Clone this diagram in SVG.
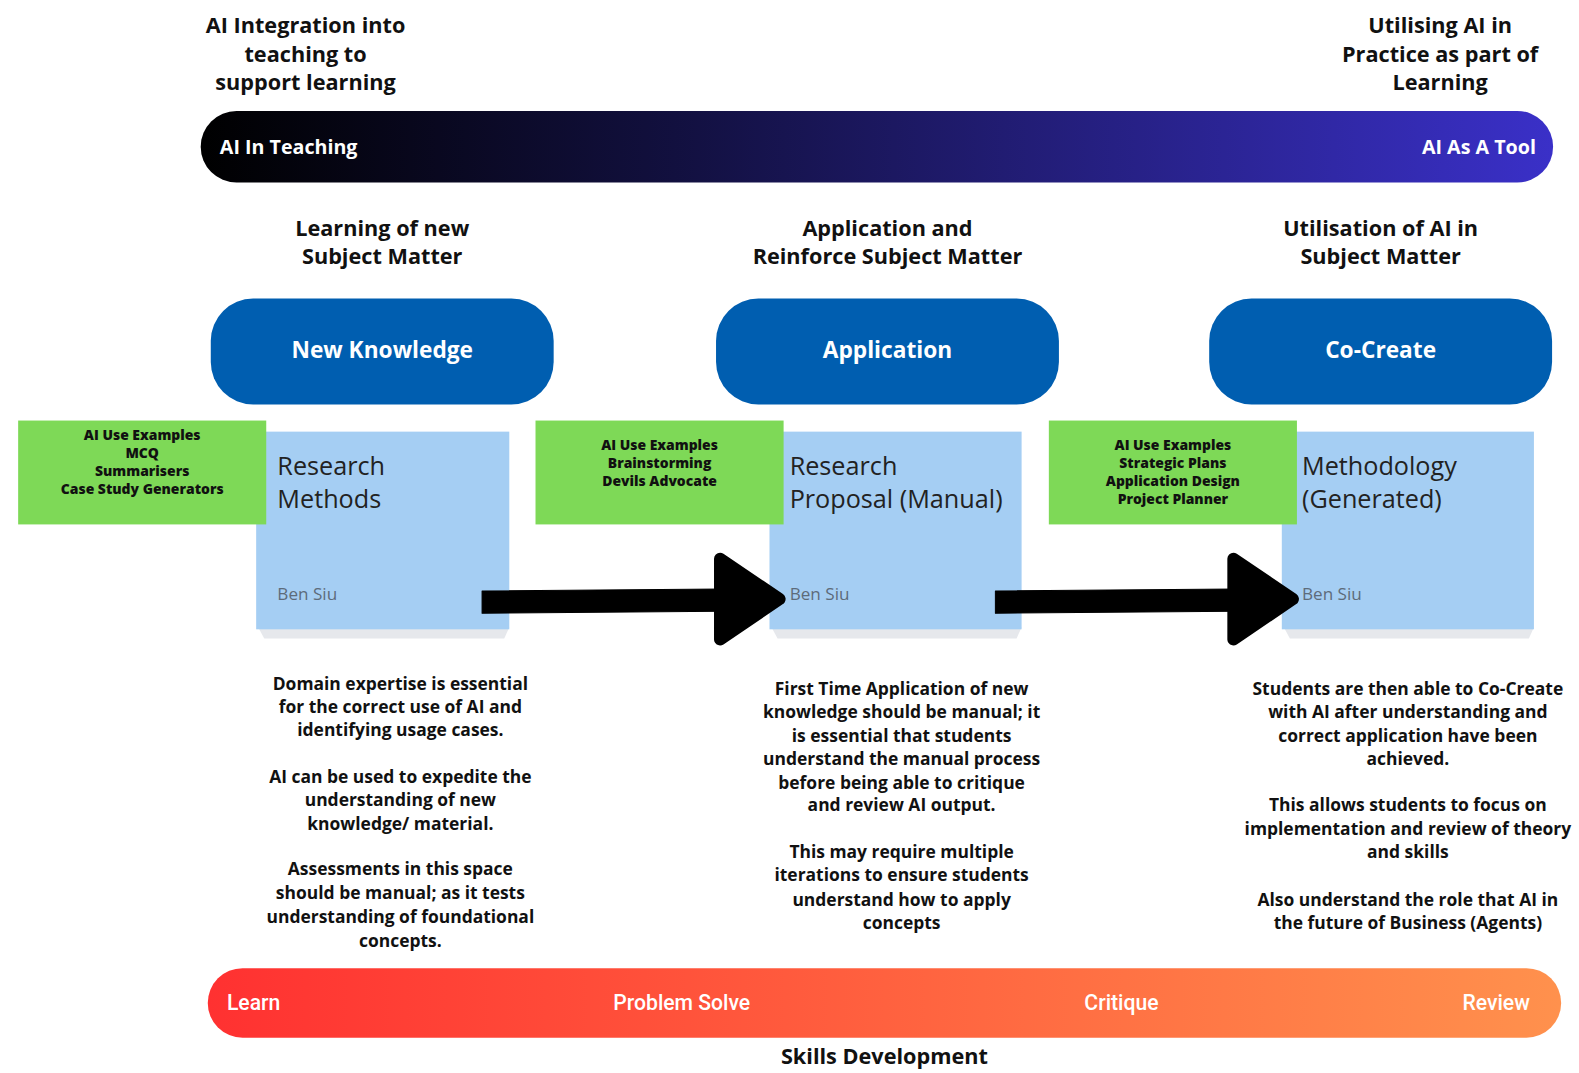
<svg xmlns="http://www.w3.org/2000/svg" width="1579" height="1073" viewBox="0 0 1579 1073">
<defs>
<linearGradient id="gTop" x1="0" y1="0" x2="1" y2="0">
<stop offset="0" stop-color="#000000"/>
<stop offset="0.35" stop-color="#12103f"/>
<stop offset="1" stop-color="#3a30c8"/>
</linearGradient>
<linearGradient id="gBot" x1="0" y1="0" x2="1" y2="0">
<stop offset="0" stop-color="#ff3131"/>
<stop offset="1" stop-color="#ff914d"/>
</linearGradient>
<style>
.hd{font-family:"Open Sans","Liberation Sans",sans-serif;font-weight:700;font-size:21.5px;fill:#111;text-anchor:middle}
.bd{font-family:"Open Sans","Liberation Sans",sans-serif;font-weight:700;font-size:17.3px;fill:#111;text-anchor:middle}
.bar{font-family:"Open Sans","Liberation Sans",sans-serif;font-weight:700;font-size:19.5px;fill:#fff}
.bar2{font-family:Roboto,"Liberation Sans",sans-serif;font-weight:500;font-size:21px;fill:#fff}
.node{fill:#005eb0}
.nt{font-family:"Open Sans","Liberation Sans",sans-serif;font-weight:700;font-size:22.5px;fill:#fff;text-anchor:middle}
.card{fill:#a5cef3}
.shadow{fill:#e6e8ec}
.ct{font-family:"Open Sans","Liberation Sans",sans-serif;font-size:25px;fill:#222}
.by{font-family:"Open Sans","Liberation Sans",sans-serif;font-size:17px;fill:#5d6b7a}
.gr{fill:#7ed957}
.gt{font-family:"Open Sans","Liberation Sans",sans-serif;font-weight:800;font-size:13.8px;fill:#111;text-anchor:middle}
.arrow{fill:#000;stroke:#000;stroke-linejoin:round}
</style>
</defs>
<rect width="1579" height="1073" fill="#fff"/>
<g transform="scale(1.0085)">
<g id="header-left">
<text class="hd" x="303" y="33">AI Integration into</text>
<text class="hd" x="303" y="61">teaching to</text>
<text class="hd" x="303" y="89">support learning</text>
</g>
<g id="header-right">
<text class="hd" x="1428" y="33">Utilising AI in</text>
<text class="hd" x="1428" y="61">Practice as part of</text>
<text class="hd" x="1428" y="89">Learning</text>
</g>

<g id="top-bar">
<rect x="199" y="110" width="1341" height="71" rx="35.5" fill="url(#gTop)"/>
<text class="bar" x="218" y="153">AI In Teaching</text>
<text class="bar" x="1523" y="153" text-anchor="end">AI As A Tool</text>
</g>

<g id="stage-labels">
<text class="hd" x="379" y="234">Learning of new</text>
<text class="hd" x="379" y="262">Subject Matter</text>
<text class="hd" x="880" y="234">Application and</text>
<text class="hd" x="880" y="262">Reinforce Subject Matter</text>
<text class="hd" x="1369" y="234">Utilisation of AI in</text>
<text class="hd" x="1369" y="262">Subject Matter</text>
</g>

<g id="node-new-knowledge">
<rect class="node" x="209" y="296" width="340" height="105" rx="42"/>
<text class="nt" x="379" y="355">New Knowledge</text>
</g>
<g id="node-application">
<rect class="node" x="710" y="296" width="340" height="105" rx="42"/>
<text class="nt" x="880" y="355">Application</text>
</g>
<g id="node-co-create">
<rect class="node" x="1199" y="296" width="340" height="105" rx="42"/>
<text class="nt" x="1369" y="355">Co-Create</text>
</g>

<g id="card-research-methods">
<path class="shadow" d="M256 622 L505 622 L500 633 L262 633 Z"/>
<rect class="card" x="254" y="428" width="251" height="196"/>
<text class="ct" x="275" y="471">Research</text>
<text class="ct" x="275" y="504">Methods</text>
<text class="by" x="275" y="595">Ben Siu</text>
</g>
<g id="card-research-proposal">
<path class="shadow" d="M765 622 L1013 622 L1008 633 L771 633 Z"/>
<rect class="card" x="763" y="428" width="250" height="196"/>
<text class="ct" x="783" y="471">Research</text>
<text class="ct" x="783" y="504">Proposal (Manual)</text>
<text class="by" x="783" y="595">Ben Siu</text>
</g>
<g id="card-methodology">
<path class="shadow" d="M1273 622 L1521 622 L1516 633 L1279 633 Z"/>
<rect class="card" x="1271" y="428" width="250" height="196"/>
<text class="ct" x="1291" y="471">Methodology</text>
<text class="ct" x="1291" y="504">(Generated)</text>
<text class="by" x="1291" y="595">Ben Siu</text>
</g>

<g id="ai-examples-1">
<rect class="gr" x="18" y="417" width="246" height="103"/>
<text class="gt" x="141" y="436">AI Use Examples</text>
<text class="gt" x="141" y="454">MCQ</text>
<text class="gt" x="141" y="472">Summarisers</text>
<text class="gt" x="141" y="490">Case Study Generators</text>
</g>
<g id="ai-examples-2">
<rect class="gr" x="531" y="417" width="246" height="103"/>
<text class="gt" x="654" y="446">AI Use Examples</text>
<text class="gt" x="654" y="464">Brainstorming</text>
<text class="gt" x="654" y="482">Devils Advocate</text>
</g>
<g id="ai-examples-3">
<rect class="gr" x="1040" y="417" width="246" height="103"/>
<text class="gt" x="1163" y="446">AI Use Examples</text>
<text class="gt" x="1163" y="464">Strategic Plans</text>
<text class="gt" x="1163" y="482">Application Design</text>
<text class="gt" x="1163" y="500">Project Planner</text>
</g>

<g id="connectors">
<path class="arrow" d="M478 586 L716 584 L716 606 L478 608 Z"/>
<path class="arrow" stroke-width="12" d="M714 554 L773 594 L714 634 Z"/>
<path class="arrow" d="M987 586 L1225 584 L1225 606 L987 608 Z"/>
<path class="arrow" stroke-width="12" d="M1223 554 L1282 594 L1223 634 Z"/>
</g>

<g id="desc-1">
<text class="bd" x="397" y="684">Domain expertise is essential</text>
<text class="bd" x="397" y="707">for the correct use of AI and</text>
<text class="bd" x="397" y="730">identifying usage cases.</text>
<text class="bd" x="397" y="776">AI can be used to expedite the</text>
<text class="bd" x="397" y="799">understanding of new</text>
<text class="bd" x="397" y="823">knowledge/ material.</text>
<text class="bd" x="397" y="868">Assessments in this space</text>
<text class="bd" x="397" y="891">should be manual; as it tests</text>
<text class="bd" x="397" y="915">understanding of foundational</text>
<text class="bd" x="397" y="939">concepts.</text>
</g>
<g id="desc-2">
<text class="bd" x="894" y="689">First Time Application of new</text>
<text class="bd" x="894" y="712">knowledge should be manual; it</text>
<text class="bd" x="894" y="736">is essential that students</text>
<text class="bd" x="894" y="759">understand the manual process</text>
<text class="bd" x="894" y="782">before being able to critique</text>
<text class="bd" x="894" y="804">and review AI output.</text>
<text class="bd" x="894" y="851">This may require multiple</text>
<text class="bd" x="894" y="874">iterations to ensure students</text>
<text class="bd" x="894" y="898">understand how to apply</text>
<text class="bd" x="894" y="921">concepts</text>
</g>
<g id="desc-3">
<text class="bd" x="1396" y="689">Students are then able to Co-Create</text>
<text class="bd" x="1396" y="712">with AI after understanding and</text>
<text class="bd" x="1396" y="736">correct application have been</text>
<text class="bd" x="1396" y="759">achieved.</text>
<text class="bd" x="1396" y="804">This allows students to focus on</text>
<text class="bd" x="1396" y="828">implementation and review of theory</text>
<text class="bd" x="1396" y="851">and skills</text>
<text class="bd" x="1396" y="898">Also understand the role that AI in</text>
<text class="bd" x="1396" y="921">the future of Business (Agents)</text>
</g>

<g id="bottom-bar">
<rect x="206" y="960" width="1342" height="69" rx="34.5" fill="url(#gBot)"/>
<text class="bar2" x="225" y="1001">Learn</text>
<text class="bar2" x="676" y="1001" text-anchor="middle">Problem Solve</text>
<text class="bar2" x="1112" y="1001" text-anchor="middle">Critique</text>
<text class="bar2" x="1517" y="1001" text-anchor="end">Review</text>
</g>
<g id="footer">
<text class="hd" x="877" y="1055">Skills Development</text>
</g>
</g>
</svg>
